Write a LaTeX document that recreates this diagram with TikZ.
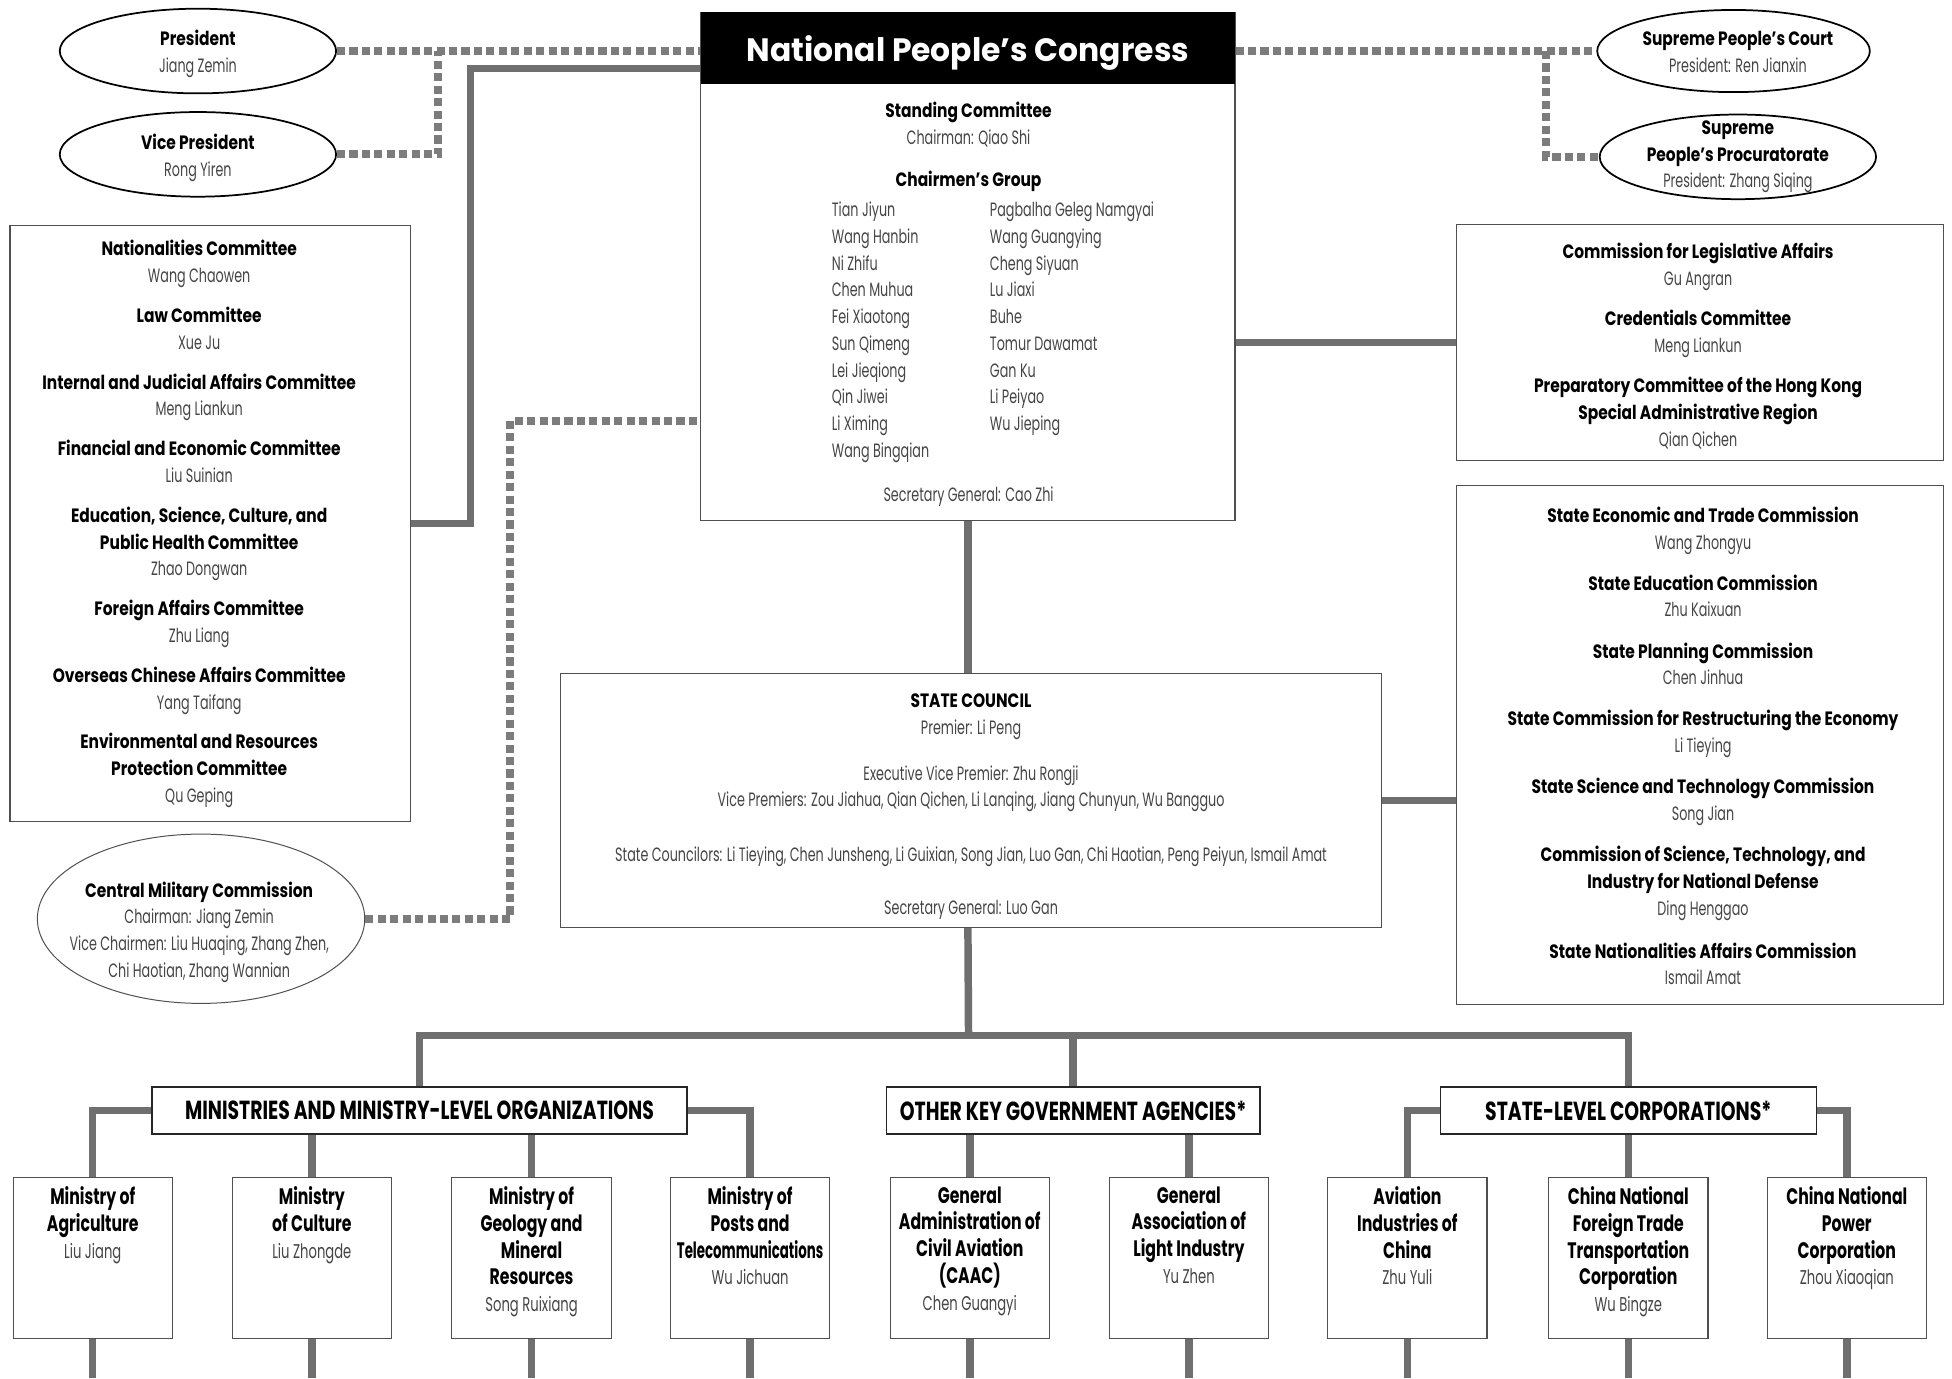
\documentclass[tikz,border=0pt]{standalone}
\usepackage{fontspec}
\usepackage{graphicx}
\setmainfont{Poppins}[FakeStretch=0.66]
\newfontfamily\hdfont{Poppins}[FakeStretch=0.80]
\newfontfamily\headfont{Poppins}[FakeStretch=0.97]
\newfontfamily\capsfont{Poppins}[FakeStretch=0.72]
\newfontfamily\bfont{Poppins}[FakeStretch=0.70]
\usetikzlibrary{shapes.geometric}
\definecolor{linegray}{HTML}{6F6F6F}
\definecolor{dotgray}{HTML}{7C7C7C}
\definecolor{namegray}{HTML}{454545}
\definecolor{boxline}{HTML}{505050}
\newcommand\hd[1]{{\hdfont\bfseries #1}}
\newcommand\bhd[1]{{\bfont\bfseries\fontsize{18}{21.5}\selectfont #1}}
\newcommand\nm[1]{\textcolor{namegray}{#1}}
\begin{document}
\begin{tikzpicture}[x=1pt,y=-1pt,
  conn/.style={line width=6pt, draw=linegray},
  dotconn/.style={line width=6.5pt, draw=dotgray, dash pattern=on 6.5pt off 3.5pt},
  box/.style={rectangle, draw=boxline, line width=0.9pt, fill=white, inner sep=0pt},
  txt/.style={align=center, inner sep=0pt, font=\fontsize{15.5}{21.5}\selectfont},
  ell/.style={ellipse, draw=black, line width=1.4pt, fill=white, inner sep=0pt},
  lab/.style={rectangle, draw=black!85, line width=1.3pt, fill=white, inner sep=0pt, minimum height=38pt, font=\capsfont\bfseries\fontsize{21}{24}\selectfont},
  bbox/.style={box, minimum width=128pt, minimum height=129pt},
  btxt/.style={txt, anchor=north, font=\fontsize{16}{21.5}\selectfont},
]
\fill[white] (0,0) rectangle (1568,1107);
\useasboundingbox (0,0) rectangle (1568,1107);
\coordinate (edge) at (0,1107);

% ---------- National People's Congress ----------
\node[box, minimum width=429pt, minimum height=408pt] (npc) at (777.5,214) {};
\node[fill=black, minimum width=429pt, minimum height=58pt, inner sep=0pt, anchor=north, text=white,
      text height=22pt, text depth=0pt,
      font=\headfont\bfseries\fontsize{26}{30}\selectfont] (npchead) at (npc.north) {National People’s Congress};
\node[txt, anchor=north] (stand) at (778,82) {\hd{Standing Committee}\\\nm{Chairman: Qiao Shi}};
\node[txt, anchor=north] (cgroup) at (778,137) {\hd{Chairmen’s Group}};
\node[txt, align=left, anchor=north west, text=namegray] (colA) at (668,162)
  {Tian Jiyun\\Wang Hanbin\\Ni Zhifu\\Chen Muhua\\Fei Xiaotong\\Sun Qimeng\\Lei Jieqiong\\Qin Jiwei\\Li Ximing\\Wang Bingqian};
\node[txt, align=left, anchor=north west, text=namegray] (colB) at (795,162)
  {Pagbalha Geleg Namgyai\\Wang Guangying\\Cheng Siyuan\\Lu Jiaxi\\Buhe\\Tomur Dawamat\\Gan Ku\\Li Peiyao\\Wu Jieping};
\node[txt, anchor=north, text=namegray] (secg) at (778,391) {Secretary General: Cao Zhi};

% ---------- ellipses ----------
\node[ell, minimum width=222pt, minimum height=68pt] (pres) at (159,41) {};
\node[txt] (prest) at (159,43) {\hd{President}\\\nm{Jiang Zemin}};
\node[ell, minimum width=222pt, minimum height=68pt] (vp) at (159,124) {};
\node[txt] (vpt) at (159,127) {\hd{Vice President}\\\nm{Rong Yiren}};
\node[ell, minimum width=219pt, minimum height=66pt] (court) at (1392.5,41) {};
\node[txt] (courtt) at (1396,41.5) {\hd{Supreme People’s Court}\\\nm{President: Ren Jianxin}};
\node[ell, minimum width=222pt, minimum height=68pt] (proc) at (1396,126) {};
\node[txt] (proct) at (1396,126) {\hd{Supreme}\\\hd{People’s Procuratorate}\\\nm{President: Zhang Siqing}};
\node[ell, line width=0.8pt, draw=boxline, minimum width=263pt, minimum height=136pt] (cmc) at (161.5,738) {};
\node[txt, anchor=north] (cmct) at (160,708) {\hd{Central Military Commission}\\\nm{Chairman: Jiang Zemin}\\\nm{Vice Chairmen: Liu Huaqing, Zhang Zhen,}\\\nm{Chi Haotian, Zhang Wannian}};

% ---------- side boxes ----------
\node[box, minimum width=322pt, minimum height=479pt] (lcom) at (169,420.5) {};
\node[txt, anchor=north] (lcomt) at (160,193) {%
\hd{Nationalities Committee}\\\nm{Wang Chaowen}\\[10.5pt]
\hd{Law Committee}\\\nm{Xue Ju}\\[10.5pt]
\hd{Internal and Judicial Affairs Committee}\\\nm{Meng Liankun}\\[10.5pt]
\hd{Financial and Economic Committee}\\\nm{Liu Suinian}\\[10.5pt]
\hd{Education, Science, Culture, and}\\\hd{Public Health Committee}\\\nm{Zhao Dongwan}\\[10.5pt]
\hd{Foreign Affairs Committee}\\\nm{Zhu Liang}\\[10.5pt]
\hd{Overseas Chinese Affairs Committee}\\\nm{Yang Taifang}\\[10.5pt]
\hd{Environmental and Resources}\\\hd{Protection Committee}\\\nm{Qu Geping}};

\node[box, minimum width=391pt, minimum height=190pt] (rtop) at (1365.5,275) {};
\node[txt, anchor=north] (rtopt) at (1364,195) {%
\hd{Commission for Legislative Affairs}\\\nm{Gu Angran}\\[11pt]
\hd{Credentials Committee}\\\nm{Meng Liankun}\\[11pt]
\hd{Preparatory Committee of the Hong Kong}\\\hd{Special Administrative Region}\\\nm{Qian Qichen}};

\node[box, minimum width=391pt, minimum height=417pt] (rcom) at (1365.5,598.5) {};
\node[txt, anchor=north] (rcomt) at (1368,407) {%
\hd{State Economic and Trade Commission}\\\nm{Wang Zhongyu}\\[11.5pt]
\hd{State Education Commission}\\\nm{Zhu Kaixuan}\\[11.5pt]
\hd{State Planning Commission}\\\nm{Chen Jinhua}\\[11.5pt]
\hd{State Commission for Restructuring the Economy}\\\nm{Li Tieying}\\[11.5pt]
\hd{State Science and Technology Commission}\\\nm{Song Jian}\\[11.5pt]
\hd{Commission of Science, Technology, and}\\\hd{Industry for National Defense}\\\nm{Ding Henggao}\\[13pt]
\hd{State Nationalities Affairs Commission}\\\nm{Ismail Amat}};

% ---------- State Council ----------
\node[box, minimum width=660pt, minimum height=204pt] (sc) at (780,643) {};
\node[txt, anchor=north] (sct) at (780,557) {%
\hd{STATE COUNCIL}\\\nm{Premier: Li Peng}\\[15.5pt]
\nm{Executive Vice Premier: Zhu Rongji}\\
\nm{Vice Premiers: Zou Jiahua, Qian Qichen, Li Lanqing, Jiang Chunyun, Wu Bangguo}\\[22.5pt]
\nm{State Councilors: Li Tieying, Chen Junsheng, Li Guixian, Song Jian, Luo Gan, Chi Haotian, Peng Peiyun, Ismail Amat}\\[20.5pt]
\nm{Secretary General: Luo Gan}};

% ---------- group labels ----------
\node[lab, minimum width=430pt] (minlab) at (337,892) {MINISTRIES AND MINISTRY-LEVEL ORGANIZATIONS};
\node[lab, minimum width=300pt] (otherlab) at (862,892) {OTHER KEY GOVERNMENT AGENCIES*};
\node[lab, minimum width=302pt] (statelab) at (1308,892) {STATE-LEVEL CORPORATIONS*};

% ---------- bottom boxes ----------
\node[bbox] (agri) at (74.5,1010.5) {};
\node[btxt] (agrit) at (74.5,953) {\bhd{Ministry of}\\\bhd{Agriculture}\\\nm{Liu Jiang}};
\node[bbox] (cult) at (250.5,1010.5) {};
\node[btxt] (cultt) at (250.5,953) {\bhd{Ministry}\\\bhd{of Culture}\\\nm{Liu Zhongde}};
\node[bbox] (geo) at (427,1010.5) {};
\node[btxt] (geot) at (427,953) {\bhd{Ministry of}\\\bhd{Geology and}\\\bhd{Mineral}\\\bhd{Resources}\\\nm{Song Ruixiang}};
\node[bbox] (posts) at (602.5,1010.5) {};
\node[btxt] (postst) at (602.5,953) {\bhd{Ministry of}\\\bhd{Posts and}\\\bhd{\scalebox{0.85}[1]{Telecommunications}}\\\nm{Wu Jichuan}};
\node[bbox] (caac) at (779,1010.5) {};
\node[btxt] (caact) at (779,953) {\bhd{General}\\\bhd{Administration of}\\\bhd{Civil Aviation}\\\bhd{(CAAC)}\\\nm{Chen Guangyi}};
\node[bbox] (light) at (955,1010.5) {};
\node[btxt] (lightt) at (955,953) {\bhd{General}\\\bhd{Association of}\\\bhd{Light Industry}\\\nm{Yu Zhen}};
\node[bbox] (avi) at (1130.5,1010.5) {};
\node[btxt] (avit) at (1130.5,953) {\bhd{Aviation}\\\bhd{Industries of}\\\bhd{China}\\\nm{Zhu Yuli}};
\node[bbox] (cnft) at (1308,1010.5) {};
\node[btxt] (cnftt) at (1308,953) {\bhd{China National}\\\bhd{Foreign Trade}\\\bhd{Transportation}\\\bhd{Corporation}\\\nm{Wu Bingze}};
\node[bbox] (power) at (1483.5,1010.5) {};
\node[btxt] (powert) at (1483.5,953) {\bhd{China National}\\\bhd{Power}\\\bhd{Corporation}\\\nm{Zhou Xiaoqian}};

% ---------- dotted connectors ----------
\coordinate (pj) at (352,41);
\coordinate (cj) at (1242,41);
\coordinate (mj) at (410,338);
\draw[dotconn] (pres.east) -- (npc.west |- pres.east);
\draw[dotconn] (vp.east) -| (pj);
\draw[dotconn] (npc.east |- court.west) -- (court.west);
\draw[dotconn] (cj) |- (proc.west);
\draw[dotconn] (cmc.east) -| (mj) -- (npc.west |- mj);

% ---------- solid connectors ----------
\coordinate (lj) at (378,55);
\coordinate (bus) at (778,832);
\draw[conn] (lcom.east) -| (lj) -- (npc.west |- lj);
\draw[conn] (npc.east |- rtop.west) -- (rtop.west);
\draw[conn] (npc.south) -- (npc.south |- sc.north);
\draw[conn] (sc.east) -- (rcom.west |- sc.east);
\draw[conn] (sc.south -| npc.south) -- (bus);
\draw[conn] (minlab.north) -- (minlab.north |- bus) -- (statelab.north |- bus) -- (statelab.north);
\draw[conn] (otherlab.north) -- (otherlab.north |- bus);
\draw[conn] (minlab.west) -| (agri.north);
\draw[conn] (minlab.east) -| (posts.north);
\draw[conn] (minlab.south -| cult.north) -- (cult.north);
\draw[conn] (minlab.south -| geo.north) -- (geo.north);
\draw[conn] (otherlab.south -| caac.north) -- (caac.north);
\draw[conn] (otherlab.south -| light.north) -- (light.north);
\draw[conn] (statelab.west) -| (avi.north);
\draw[conn] (statelab.east) -| (power.north);
\draw[conn] (statelab.south -| cnft.north) -- (cnft.north);
\foreach \n in {agri,cult,geo,posts,caac,light,avi,cnft,power}
  \draw[conn] (\n.south) -- (\n.south |- edge);
\end{tikzpicture}
\end{document}
